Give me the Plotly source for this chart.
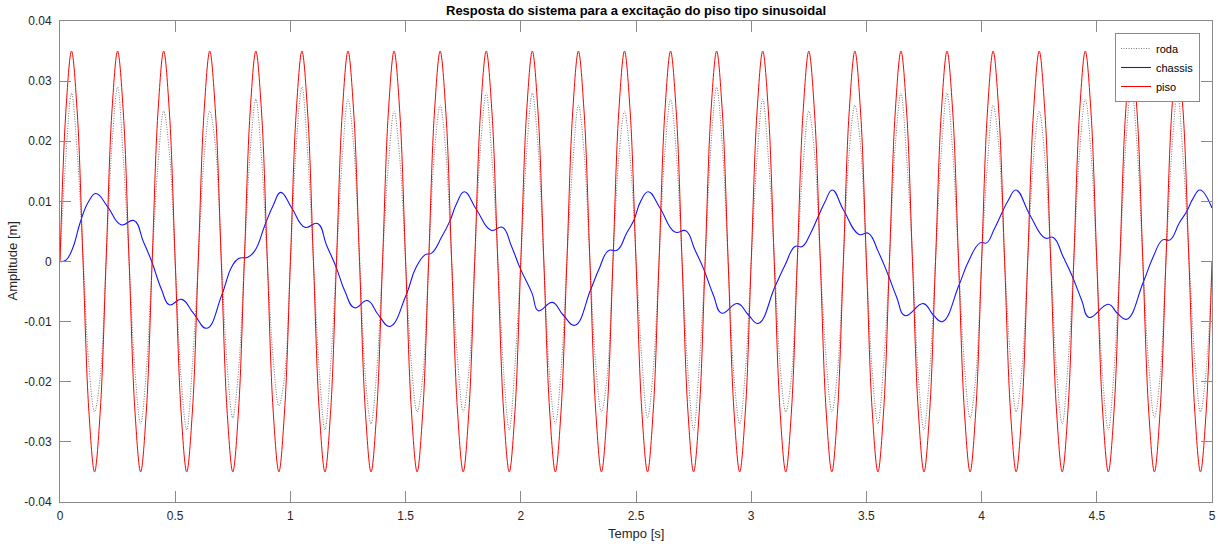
import plotly.graph_objects as go

# ---------------- data ----------------
# sample times for piso / roda (every 0.025 s)
t_grid = [round(k * 0.025, 3) for k in range(201)]

piso = [
    0, 0.0247, 0.035, 0.0247, 0, -0.0247, -0.035, -0.0247,
    0, 0.0247, 0.035, 0.0247, 0, -0.0247, -0.035, -0.0247,
    0, 0.0247, 0.035, 0.0247, 0, -0.0247, -0.035, -0.0247,
    0, 0.0247, 0.035, 0.0247, 0, -0.0247, -0.035, -0.0247,
    0, 0.0247, 0.035, 0.0247, 0, -0.0247, -0.035, -0.0247,
    0, 0.0247, 0.035, 0.0247, 0, -0.0247, -0.035, -0.0247,
    0, 0.0247, 0.035, 0.0247, 0, -0.0247, -0.035, -0.0247,
    0, 0.0247, 0.035, 0.0247, 0, -0.0247, -0.035, -0.0247,
    0, 0.0247, 0.035, 0.0247, 0, -0.0247, -0.035, -0.0247,
    0, 0.0247, 0.035, 0.0247, 0, -0.0247, -0.035, -0.0247,
    0, 0.0247, 0.035, 0.0247, 0, -0.0247, -0.035, -0.0247,
    0, 0.0247, 0.035, 0.0247, 0, -0.0247, -0.035, -0.0247,
    0, 0.0247, 0.035, 0.0247, 0, -0.0247, -0.035, -0.0247,
    0, 0.0247, 0.035, 0.0247, 0, -0.0247, -0.035, -0.0247,
    0, 0.0247, 0.035, 0.0247, 0, -0.0247, -0.035, -0.0247,
    0, 0.0247, 0.035, 0.0247, 0, -0.0247, -0.035, -0.0247,
    0, 0.0247, 0.035, 0.0247, 0, -0.0247, -0.035, -0.0247,
    0, 0.0247, 0.035, 0.0247, 0, -0.0247, -0.035, -0.0247,
    0, 0.0247, 0.035, 0.0247, 0, -0.0247, -0.035, -0.0247,
    0, 0.0247, 0.035, 0.0247, 0, -0.0247, -0.035, -0.0247,
    0, 0.0247, 0.035, 0.0247, 0, -0.0247, -0.035, -0.0247,
    0, 0.0247, 0.035, 0.0247, 0, -0.0247, -0.035, -0.0247,
    0, 0.0247, 0.035, 0.0247, 0, -0.0247, -0.035, -0.0247,
    0, 0.0247, 0.035, 0.0247, 0, -0.0247, -0.035, -0.0247,
    0, 0.0247, 0.035, 0.0247, 0, -0.0247, -0.035, -0.0247,
    0,
]

roda = [
    0, 0.017, 0.028, 0.018, 0.001, -0.017, -0.025, -0.019,
    0, 0.019, 0.029, 0.017, 0.000, -0.018, -0.027, -0.018,
    0, 0.016, 0.025, 0.018, 0.000, -0.019, -0.028, -0.017,
    0, 0.017, 0.025, 0.019, 0.001, -0.017, -0.026, -0.018,
    0, 0.018, 0.027, 0.017, 0.000, -0.016, -0.024, -0.019,
    0, 0.019, 0.029, 0.018, 0.000, -0.018, -0.028, -0.017,
    0, 0.017, 0.027, 0.019, 0.001, -0.019, -0.027, -0.018,
    0, 0.016, 0.025, 0.017, 0.000, -0.017, -0.025, -0.019,
    0, 0.018, 0.026, 0.018, 0.000, -0.016, -0.025, -0.018,
    0, 0.019, 0.028, 0.017, 0.001, -0.018, -0.028, -0.017,
    0, 0.018, 0.028, 0.019, 0.000, -0.019, -0.027, -0.018,
    0, 0.016, 0.026, 0.018, 0.000, -0.017, -0.025, -0.019,
    0, 0.017, 0.025, 0.017, 0.001, -0.016, -0.026, -0.018,
    0, 0.018, 0.027, 0.018, 0.000, -0.018, -0.028, -0.017,
    0, 0.019, 0.029, 0.019, 0.000, -0.019, -0.027, -0.018,
    0, 0.017, 0.027, 0.017, 0.001, -0.017, -0.025, -0.019,
    0, 0.016, 0.025, 0.018, 0.000, -0.016, -0.025, -0.018,
    0, 0.018, 0.026, 0.019, 0.000, -0.018, -0.027, -0.017,
    0, 0.019, 0.028, 0.017, 0.001, -0.019, -0.028, -0.018,
    0, 0.018, 0.028, 0.018, 0.000, -0.017, -0.026, -0.019,
    0, 0.016, 0.026, 0.019, 0.000, -0.016, -0.025, -0.018,
    0, 0.017, 0.025, 0.017, 0.001, -0.018, -0.027, -0.017,
    0, 0.018, 0.027, 0.018, 0.000, -0.019, -0.028, -0.018,
    0, 0.019, 0.029, 0.019, 0.000, -0.017, -0.026, -0.019,
    0, 0.018, 0.028, 0.017, 0.001, -0.016, -0.025, -0.018,
    0,
]

# chassis: (time, value) pairs
t_chassis = [
    0.000, 0.025, 0.055, 0.087, 0.123, 0.156, 0.207, 0.265, 0.321, 0.362,
    0.398, 0.441, 0.475, 0.528, 0.579, 0.637, 0.702, 0.745, 0.775, 0.815,
    0.846, 0.890, 0.926, 0.958, 1.006, 1.063, 1.118, 1.157, 1.198, 1.237,
    1.278, 1.334, 1.382, 1.432, 1.502, 1.544, 1.584, 1.613, 1.657, 1.693,
    1.722, 1.755, 1.808, 1.871, 1.920, 1.960, 1.997, 2.049, 2.076, 2.137,
    2.184, 2.235, 2.303, 2.339, 2.380, 2.419, 2.459, 2.491, 2.520, 2.553,
    2.604, 2.669, 2.716, 2.756, 2.792, 2.836, 2.872, 2.941, 2.988, 3.031,
    3.103, 3.147, 3.190, 3.222, 3.258, 3.291, 3.320, 3.352, 3.400, 3.468,
    3.508, 3.552, 3.595, 3.631, 3.668, 3.747, 3.790, 3.830, 3.902, 3.943,
    3.993, 4.022, 4.055, 4.087, 4.116, 4.149, 4.210, 4.275, 4.311, 4.355,
    4.394, 4.434, 4.467, 4.550, 4.589, 4.630, 4.702, 4.745, 4.786, 4.818,
    4.858, 4.890, 4.918, 4.948, 5.000,
]
chassis = [
    0.0000, 0.0002, 0.0022, 0.0064, 0.0099, 0.0113, 0.0091, 0.0061, 0.0068, 0.0033,
    0.0000, -0.0047, -0.0072, -0.0063, -0.0086, -0.0111, -0.0056, -0.0009, 0.0005, 0.0007,
    0.0018, 0.0061, 0.0094, 0.0115, 0.0089, 0.0057, 0.0063, 0.0027, -0.0009, -0.0050,
    -0.0077, -0.0065, -0.0089, -0.0108, -0.0056, -0.0011, 0.0011, 0.0014, 0.0041, 0.0068,
    0.0097, 0.0116, 0.0086, 0.0052, 0.0057, 0.0025, -0.0011, -0.0053, -0.0082, -0.0068,
    -0.0089, -0.0106, -0.0047, -0.0013, 0.0018, 0.0019, 0.0047, 0.0069, 0.0100, 0.0116,
    0.0089, 0.0049, 0.0051, 0.0019, -0.0011, -0.0056, -0.0086, -0.0070, -0.0089, -0.0103,
    -0.0042, -0.0006, 0.0025, 0.0025, 0.0047, 0.0075, 0.0099, 0.0119, 0.0086, 0.0045,
    0.0047, 0.0016, -0.0023, -0.0059, -0.0090, -0.0070, -0.0089, -0.0100, -0.0039, 0.0000,
    0.0031, 0.0031, 0.0054, 0.0080, 0.0102, 0.0119, 0.0077, 0.0039, 0.0040, 0.0007,
    -0.0025, -0.0064, -0.0093, -0.0071, -0.0086, -0.0096, -0.0034, 0.0008, 0.0036, 0.0036,
    0.0064, 0.0083, 0.0105, 0.0119, 0.0089,
]

y_tickvals = [-0.04, -0.03, -0.02, -0.01, 0, 0.01, 0.02, 0.03, 0.04]
y_ticktext = ["-0.04", "-0.03", "-0.02", "-0.01", "0", "0.01", "0.02", "0.03", "0.04"]
x_tickvals = [0, 0.5, 1, 1.5, 2, 2.5, 3, 3.5, 4, 4.5, 5]
x_ticktext = ["0", "0.5", "1", "1.5", "2", "2.5", "3", "3.5", "4", "4.5", "5"]

# ---------------- figure ----------------
FONT = "Liberation Sans, Arial, Helvetica, sans-serif"
AXC = "#8a8a8a"
TXT = "#262626"

fig = go.Figure()
fig.add_trace(go.Scatter(
    x=t_grid, y=roda, name="roda", mode="lines",
    line=dict(color="rgb(120,120,120)", width=1, dash="1px,1.5px", shape="spline"),
))
fig.add_trace(go.Scatter(
    x=t_chassis, y=chassis, name="chassis", mode="lines",
    line=dict(color="rgb(20,20,255)", width=1.1, shape="spline", smoothing=1.3),
))
fig.add_trace(go.Scatter(
    x=t_grid, y=piso, name="piso", mode="lines",
    line=dict(color="#FF0000", width=1, shape="spline"),
))

axis_common = dict(
    showline=True, linecolor=AXC, linewidth=1, mirror="ticks",
    ticks="inside", ticklen=11, tickcolor=AXC, tickwidth=1,
    showgrid=False, zeroline=False, automargin=False,
    tickfont=dict(family=FONT, size=12, color=TXT),
)

fig.update_layout(
    width=1218, height=544,
    margin=dict(l=60, r=6, t=21, b=42),
    paper_bgcolor="white", plot_bgcolor="white",
    font=dict(family=FONT, color=TXT),
    title=dict(
        text="<b>Resposta do sistema para a excitação do piso tipo sinusoidal</b>",
        font=dict(family=FONT, size=13, color="black"),
        x=0.5, xref="paper", xanchor="center",
        y=1 - 10.5 / 544, yref="container", yanchor="middle",
    ),
    xaxis=dict(
        range=[0, 5], tickvals=x_tickvals, ticktext=x_ticktext,
        ticklabelstandoff=3,
        **axis_common,
    ),
    yaxis=dict(
        range=[-0.04, 0.04], tickvals=y_tickvals, ticktext=y_ticktext,
        ticklabelstandoff=5,
        **axis_common,
    ),
    annotations=[
        dict(text="Tempo [s]", x=0.5, xref="paper", y=(502 - 533) / 481, yref="paper",
             xanchor="center", yanchor="middle", showarrow=False,
             font=dict(family=FONT, size=13, color=TXT)),
        dict(text="Amplitude [m]", x=(12 - 60) / 1152, xref="paper", y=0.5, yref="paper",
             xanchor="center", yanchor="middle", showarrow=False, textangle=-90,
             font=dict(family=FONT, size=13, color=TXT)),
    ],
    legend=dict(
        x=(1200 - 60) / 1152, xanchor="right",
        y=(502 - 33) / 481, yanchor="top",
        bgcolor="white", bordercolor=AXC, borderwidth=1,
        font=dict(family=FONT, size=11, color="black"),
        tracegroupgap=0, itemwidth=30,
    ),
    showlegend=True,
)

fig.write_html(
    "out.html",
    config={"displayModeBar": False},
    post_script="document.body.style.margin='0';document.body.style.overflow='hidden';",
)
